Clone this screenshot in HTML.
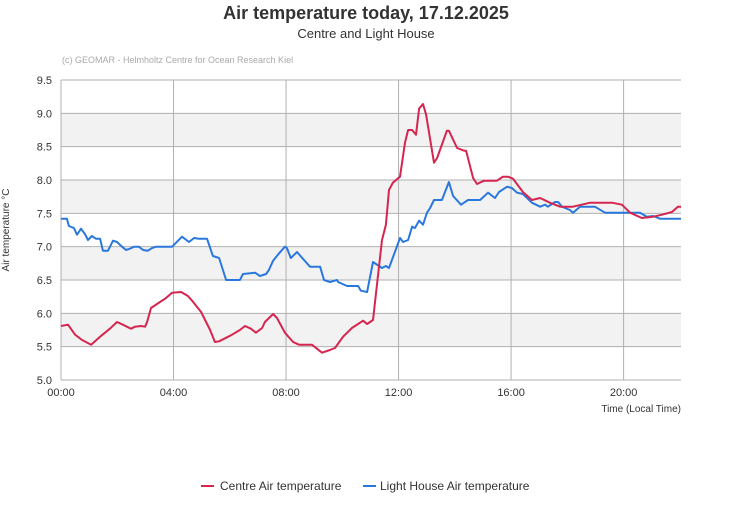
<!DOCTYPE html>
<html><head><meta charset="utf-8"><style>
body{margin:0;background:#fff;font-family:"Liberation Sans",Arial,sans-serif;}
svg text{font-family:"Liberation Sans",Arial,sans-serif;}
</style></head><body>
<svg id="chart" width="731" height="500" viewBox="0 0 731 500" xmlns="http://www.w3.org/2000/svg">
<text x="366" y="19" text-anchor="middle" font-size="18" font-weight="bold" fill="#333">Air temperature today, 17.12.2025</text>
<text x="366" y="38" text-anchor="middle" font-size="13" fill="#333">Centre and Light House</text>
<text x="62" y="63" font-size="9" fill="#aaa">(c) GEOMAR - Helmholtz Centre for Ocean Research Kiel</text>
<g id="bands"></g><g id="grid"></g><g id="labels"></g><g id="series"></g>
<text transform="translate(9,230) rotate(-90)" text-anchor="middle" font-size="10" fill="#333">Air temperature °C</text>
<text x="681" y="412" text-anchor="end" font-size="10" fill="#333">Time (Local Time)</text>
<g><line x1="201" y1="486" x2="214" y2="486" stroke="#d4264f" stroke-width="2"/><text x="220" y="490" font-size="12" fill="#333">Centre Air temperature</text></g>
<g><line x1="363" y1="486" x2="376" y2="486" stroke="#2a78de" stroke-width="2"/><text x="380" y="490" font-size="12" fill="#333">Light House Air temperature</text></g>
</svg>
<script>
const yTicks=[5.0,5.5,6.0,6.5,7.0,7.5,8.0,8.5,9.0,9.5];
const xTickHours=[0,4,8,12,16,20];
const xTickLabels=["00:00","04:00","08:00","12:00","16:00","20:00"];
const centreTimes=[0,0.25,0.5,0.75,1.07,1.39,1.74,1.99,2.2,2.49,2.63,2.84,2.99,3.06,3.2,3.52,3.7,3.95,4.27,4.51,4.66,4.98,5.3,5.47,5.62,5.9,6.08,6.36,6.54,6.75,6.93,7.15,7.25,7.54,7.68,7.96,8.25,8.46,8.92,9.28,9.56,9.74,10.03,10.34,10.45,10.74,10.88,11.09,11.41,11.55,11.66,11.8,12.05,12.23,12.34,12.48,12.62,12.73,12.87,12.98,13.26,13.37,13.72,13.79,14.08,14.33,14.4,14.65,14.79,15.04,15.5,15.71,15.89,16.07,16.42,16.74,17.03,17.38,17.74,18.2,18.81,19.59,19.94,20.23,20.65,21.05,21.37,21.72,21.93,22.04];
const centreValues=[5.81,5.83,5.68,5.6,5.53,5.65,5.77,5.87,5.83,5.77,5.8,5.81,5.8,5.87,6.08,6.17,6.22,6.31,6.32,6.26,6.19,6.02,5.75,5.57,5.58,5.64,5.68,5.75,5.81,5.77,5.71,5.78,5.87,5.99,5.93,5.71,5.57,5.53,5.53,5.41,5.45,5.48,5.65,5.78,5.81,5.89,5.84,5.9,7.1,7.33,7.85,7.96,8.05,8.56,8.75,8.75,8.68,9.07,9.14,8.98,8.26,8.33,8.74,8.74,8.48,8.44,8.44,8.03,7.94,7.99,7.99,8.05,8.05,8.02,7.82,7.7,7.73,7.66,7.6,7.6,7.66,7.66,7.63,7.51,7.43,7.45,7.48,7.52,7.6,7.6];
const lightTimes=[0,0.21,0.28,0.46,0.57,0.71,0.85,0.96,1.1,1.24,1.39,1.49,1.67,1.85,1.99,2.17,2.31,2.45,2.6,2.77,2.92,3.09,3.24,3.38,3.95,4.02,4.3,4.55,4.73,4.91,5.19,5.4,5.62,5.87,6.36,6.47,6.9,7.07,7.29,7.39,7.54,7.71,7.96,8.03,8.17,8.39,8.64,8.85,9.21,9.35,9.56,9.81,9.85,10.17,10.56,10.66,10.88,11.09,11.41,11.55,11.66,12.05,12.16,12.34,12.48,12.58,12.73,12.87,13.01,13.12,13.26,13.54,13.79,13.94,14.22,14.47,14.9,15.18,15.43,15.57,15.86,16.03,16.21,16.42,16.74,17.03,17.21,17.31,17.56,17.67,17.81,18.09,18.2,18.45,18.98,19.34,20.58,20.83,21.05,21.29,22.04];
const lightValues=[7.42,7.42,7.31,7.28,7.18,7.27,7.19,7.1,7.16,7.12,7.12,6.94,6.94,7.09,7.07,7.0,6.95,6.97,7.0,7.0,6.95,6.94,6.98,7.0,7.0,7.03,7.15,7.07,7.13,7.12,7.12,6.86,6.83,6.5,6.5,6.59,6.61,6.56,6.59,6.65,6.79,6.88,7.0,6.98,6.83,6.92,6.8,6.7,6.7,6.5,6.47,6.5,6.47,6.41,6.41,6.34,6.32,6.77,6.68,6.71,6.68,7.13,7.07,7.1,7.3,7.28,7.39,7.33,7.51,7.58,7.7,7.7,7.97,7.76,7.63,7.7,7.7,7.81,7.73,7.82,7.9,7.88,7.81,7.79,7.66,7.6,7.63,7.6,7.67,7.67,7.6,7.55,7.51,7.6,7.6,7.51,7.51,7.45,7.46,7.42,7.42];

const L=61,R=681,T=80,B=380,NS="http://www.w3.org/2000/svg";
const xMax=(R-L)/28.13;
const xs=h=>L+h/xMax*(R-L);
const ys=v=>B-(v-5)/4.5*(B-T);
function mk(tag,attrs,parent){const e=document.createElementNS(NS,tag);for(const k in attrs)e.setAttribute(k,attrs[k]);document.getElementById(parent).appendChild(e);return e;}
for(let i=0;i<yTicks.length-1;i++){
  if(i%2===1){const r=mk('rect',{x:L,y:ys(yTicks[i+1]),width:R-L,height:ys(yTicks[i])-ys(yTicks[i+1]),fill:'#f2f2f2'},'bands');
  
  }
}
yTicks.forEach(v=>{
  const l=mk('line',{x1:L,x2:R,y1:ys(v),y2:ys(v),stroke:'#b0b0b0','stroke-width':1},'grid');
  
  
  const t=mk('text',{x:L-9,y:ys(v)+4,'text-anchor':'end','font-size':11,fill:'#333'},'labels');
  
  
  t.textContent=v.toFixed(1);
});
xTickHours.forEach((h,i)=>{
  const l=mk('line',{x1:xs(h),x2:xs(h),y1:T,y2:B,stroke:'#b0b0b0','stroke-width':1},'grid');
  
  
  const t=mk('text',{x:xs(h),y:B+16,'text-anchor':'middle','font-size':11,fill:'#333'},'labels');
  
  
  t.textContent=xTickLabels[i];
});
function line(times,vals,color,name){
  const d=times.map((t,i)=>(i?'L':'M')+xs(t).toFixed(1)+','+ys(vals[i]).toFixed(1)).join('');
  const p=mk('path',{d:d,fill:'none',stroke:color,'stroke-width':2,'stroke-linejoin':'round'},'series');
  
  
}
line(lightTimes,lightValues,'#2a78de','lighthouse-temperature-line');
line(centreTimes,centreValues,'#d4264f','centre-temperature-line');
</script>
</body></html>
